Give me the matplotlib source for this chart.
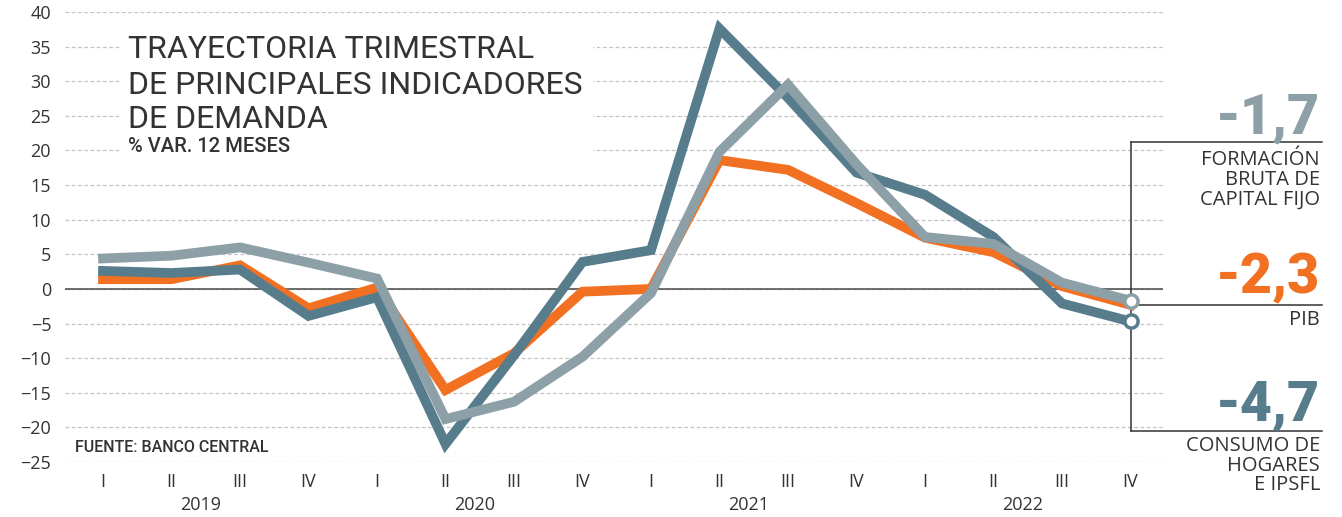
import numpy as np
import matplotlib
matplotlib.use("Agg")
import matplotlib.pyplot as plt
from matplotlib.patches import Rectangle

# quarterly % change, 12 months
quarters = ['I', 'II', 'III', 'IV'] * 4
years = ['2019', '2020', '2021', '2022']
pib = [1.4, 1.4, 3.4, -2.8, 0.2, -14.6, -9.3, -0.4, 0.0, 18.6, 17.2, 12.4, 7.4, 5.3, 0.4, -2.3]
fbcf = [4.4, 4.8, 6.0, 3.8, 1.5, -18.8, -16.3, -9.8, -0.6, 19.8, 29.5, 18.0, 7.5, 6.5, 0.9, -1.7]
consumo = [2.6, 2.3, 2.8, -3.9, -1.2, -22.4, -9.6, 3.9, 5.6, 37.6, 27.6, 16.8, 13.6, 7.5, -2.1, -4.7]

c_pib = '#f27022'
c_fbcf = '#8d9fa7'
c_cons = '#577d8c'
c_txt = '#333333'

W, H = 1342, 517
fig = plt.figure(figsize=(W / 100, H / 100), dpi=100)
ax = fig.add_axes([65 / W, 1 - 462 / H, (1163 - 65) / W, (462 - 12) / H])

x = np.arange(len(quarters))
step = 68.5
ax.set_xlim(-(103 - 65) / step, (1163 - 103) / step)
ax.set_ylim(-25, 40)

ax.plot(x, pib, color=c_pib, lw=7, solid_joinstyle='miter', zorder=3)
ax.plot(x, consumo, color=c_cons, lw=7, solid_joinstyle='miter', zorder=4)
ax.plot(x, fbcf, color=c_fbcf, lw=7, solid_joinstyle='miter', zorder=5)
ax.plot(x[-1], fbcf[-1], 'o', ms=9.5, mfc='white', mec=c_fbcf, mew=2.5, zorder=6, clip_on=False)
ax.plot(x[-1], consumo[-1], 'o', ms=9.5, mfc='white', mec=c_cons, mew=2.5, zorder=6, clip_on=False)

ax.set_axisbelow(True)
ax.yaxis.grid(True, ls=(0, (3, 2)), color='#c4c4c4', lw=0.9)
ax.axhline(0, color='#555555', lw=1.2, zorder=2)
for s in ax.spines.values():
    s.set_visible(False)

ax.set_yticks(np.arange(-25, 41, 5))
ax.set_xticks(x)
ax.set_xticklabels(quarters)
ax.tick_params(length=0, labelsize=13, labelcolor=c_txt)
ax.tick_params(axis='y', pad=10)
ax.tick_params(axis='x', pad=8)
for lab in ax.get_xticklabels() + ax.get_yticklabels():
    lab.set_family('Open Sans')

for i, yr in enumerate(years):
    ax.text(4 * i + 1.43, -0.095, yr, transform=ax.get_xaxis_transform(),
            ha='center', va='center', fontsize=13, color=c_txt, family='Open Sans')

# white block behind the title
ax.add_patch(Rectangle((122 / W, 1 - 160 / H), (592 - 122) / W, (160 - 28) / H,
                       transform=fig.transFigure, color='white', zorder=1))

tx = 128 / W
for yy, line in zip([50, 85, 119], ['TRAYECTORIA TRIMESTRAL', 'DE PRINCIPALES INDICADORES', 'DE DEMANDA']):
    fig.text(tx, 1 - yy / H, line, fontsize=23, color=c_txt, family='Roboto', va='center')
fig.text(tx, 1 - 147 / H, '% VAR. 12 MESES', fontsize=14.5, color=c_txt,
         family='Roboto', weight='medium', va='center')
fig.text(75 / W, 1 - 447 / H, 'FUENTE: BANCO CENTRAL', fontsize=11.5, color=c_txt,
         family='Roboto', weight='medium', va='center')

# right side annotations
xr = (1322 - 103) / step
y_top, y_bot = 21.2, -20.5
kw = dict(color='#333333', lw=1.1, clip_on=False, zorder=2)
ax.plot([x[-1], x[-1]], [y_bot, y_top], **kw)
ax.plot([x[-1], xr], [y_top, y_top], **kw)
ax.plot([x[-1], xr], [pib[-1], pib[-1]], **kw)
ax.plot([x[-1], xr], [y_bot, y_bot], **kw)

rx = 1320 / W
big = dict(fontsize=40, weight='heavy', family='Roboto', ha='right', va='baseline')
fig.text(rx, 1 - 133 / H, '-1,7', color=c_fbcf, **big)
fig.text(rx, 1 - 293 / H, '-2,3', color=c_pib, **big)
fig.text(rx, 1 - 420 / H, '-4,7', color=c_cons, **big)

lab = dict(fontsize=14.5, color=c_txt, family='Open Sans', ha='right', va='top', linespacing=0.98)
fig.text(rx, 1 - 150 / H, 'FORMACIÓN\nBRUTA DE\nCAPITAL FIJO', **lab)
fig.text(rx, 1 - 310 / H, 'PIB', **lab)
fig.text(rx, 1 - 436 / H, 'CONSUMO DE\nHOGARES\nE IPSFL', **lab)

fig.savefig('out.png', dpi=100)
